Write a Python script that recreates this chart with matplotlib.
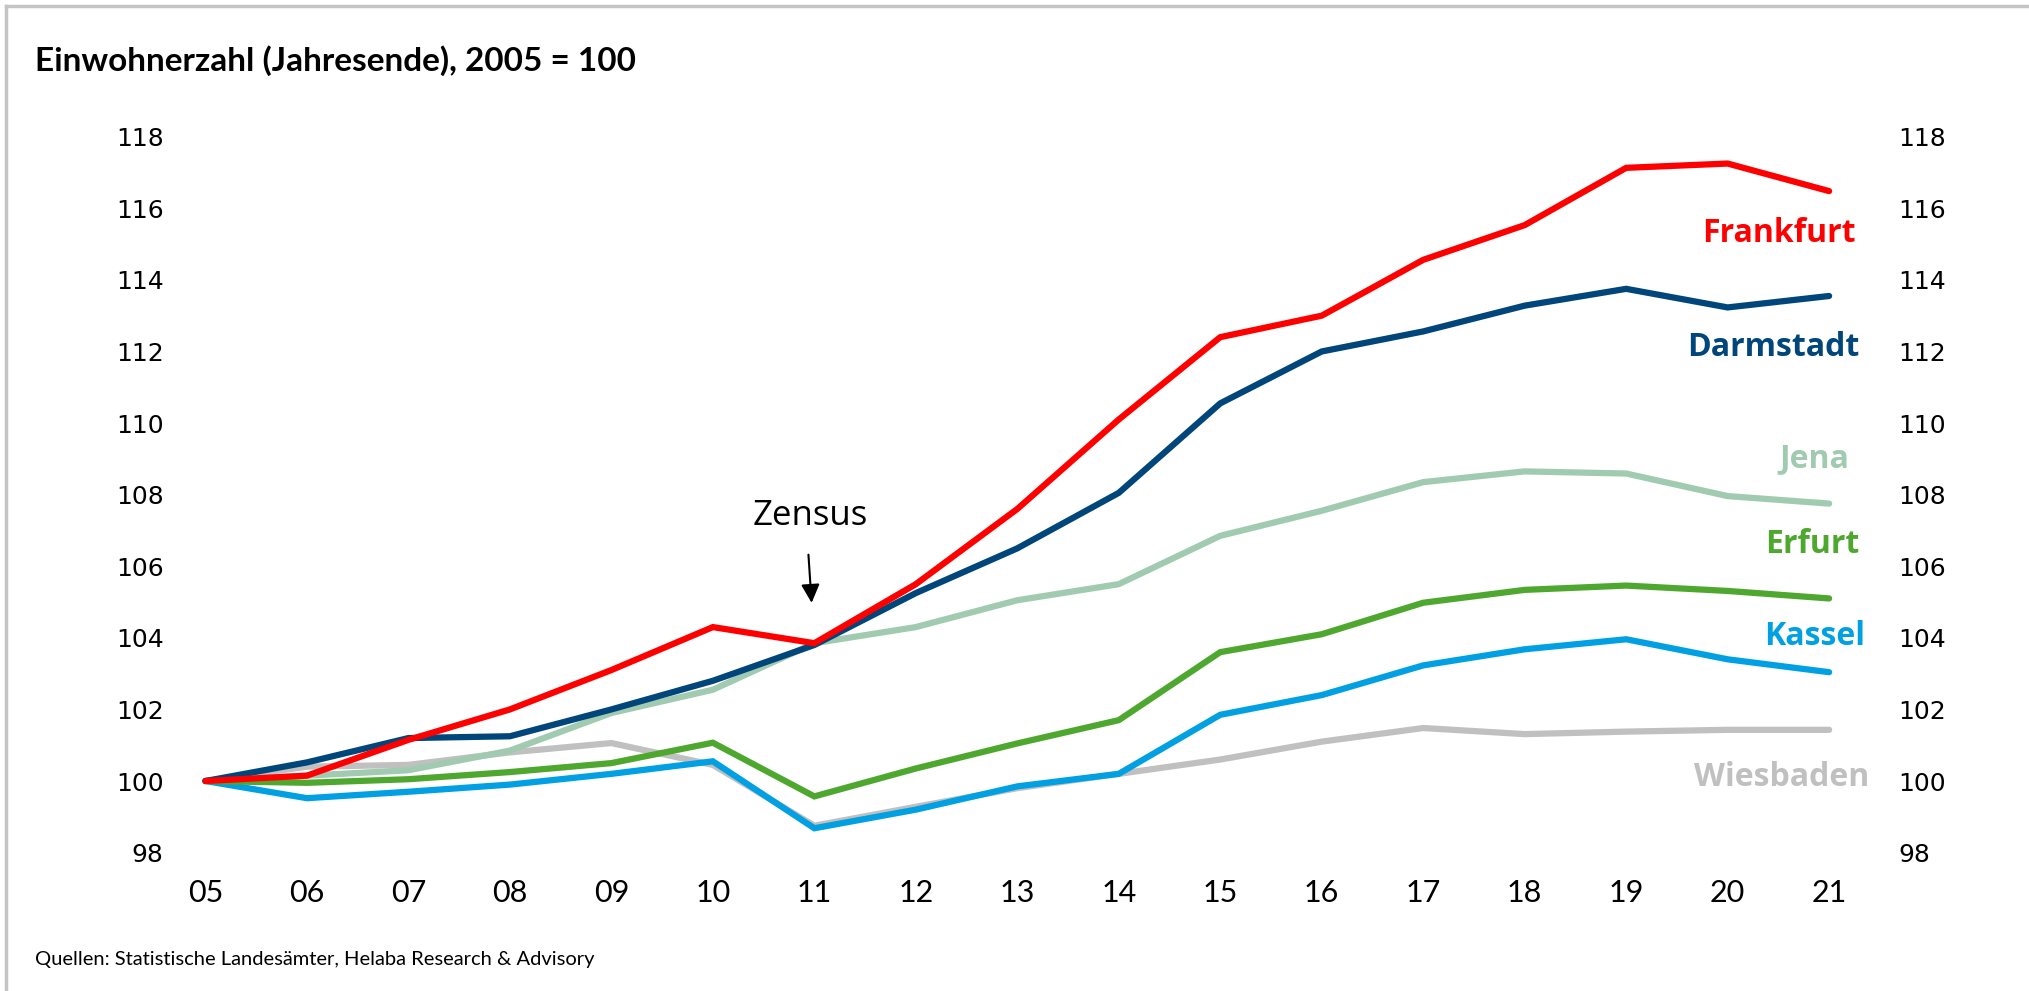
import matplotlib
matplotlib.use("Agg")
import matplotlib.pyplot as plt
from matplotlib.lines import Line2D

# Einwohnerzahl (Jahresende), 2005 = 100
jahre = ["05", "06", "07", "08", "09", "10", "11", "12", "13",
         "14", "15", "16", "17", "18", "19", "20", "21"]

frankfurt = [100, 100.15, 101.15, 102.0, 103.1, 104.3, 103.85, 105.5, 107.6,
             110.1, 112.4, 113.0, 114.56, 115.53, 117.13, 117.25, 116.48]
darmstadt = [100, 100.52, 101.2, 101.25, 102.0, 102.8, 103.8, 105.25, 106.5,
             108.05, 110.55, 112.0, 112.56, 113.28, 113.75, 113.23, 113.55]
jena = [100, 100.15, 100.3, 100.85, 101.9, 102.55, 103.85, 104.3, 105.05,
        105.5, 106.85, 107.55, 108.35, 108.65, 108.59, 107.96, 107.75]
erfurt = [100, 99.95, 100.05, 100.25, 100.5, 101.07, 99.57, 100.35, 101.05,
          101.7, 103.6, 104.1, 104.98, 105.34, 105.46, 105.31, 105.1]
kassel = [100, 99.52, 99.7, 99.9, 100.2, 100.55, 98.68, 99.2, 99.85,
          100.2, 101.85, 102.4, 103.23, 103.68, 103.96, 103.4, 103.04]
wiesbaden = [100, 100.4, 100.45, 100.8, 101.06, 100.45, 98.75, 99.28, 99.8,
             100.2, 100.6, 101.1, 101.48, 101.31, 101.38, 101.43, 101.43]

# draw order: back to front
serien = [
    ("Wiesbaden", wiesbaden, "#c0c0c0", 100.1, 16.4),
    ("Jena", jena, "#a0cbb0", 109.0, 16.2),
    ("Kassel", kassel, "#00a0e3", 104.05, 16.35),
    ("Erfurt", erfurt, "#4ea72e", 106.6, 16.3),
    ("Darmstadt", darmstadt, "#00467a", 112.1, 16.3),
    ("Frankfurt", frankfurt, "#ff0000", 115.3, 16.26),
]

narrow = ["Lato", "DejaVu Sans"]
sans = ["Open Sans", "DejaVu Sans"]

fig = plt.figure(figsize=(20.29, 9.91), dpi=100)
ax = fig.add_axes([172 / 2029, 1 - 852.6 / 991, (1890 - 172) / 2029, (852.6 - 136.7) / 991])

x = list(range(len(jahre)))
for name, werte, farbe, ly, lx in serien:
    ax.plot(x, werte, color=farbe, lw=4.5, solid_capstyle="round", solid_joinstyle="miter")
    ax.text(lx, ly, name, color=farbe, ha="right", va="center",
            fontsize=23, fontweight="bold", family=sans)

ax.set_xlim(-0.33, 16.6)
ax.set_ylim(98, 118)
ax.set_yticks(range(98, 119, 2))
ax.set_xticks(x)
ax.set_xticklabels(jahre, family=narrow, fontsize=22)
ax.tick_params(axis="both", length=0)
ax.tick_params(axis="y", labelsize=18, pad=6, labelright=True, right=False)
ax.tick_params(axis="x", pad=19)
for s in ax.spines.values():
    s.set_visible(False)

# Zensus
ax.text(5.96, 107.4, "Zensus", ha="center", va="center", fontsize=25, family=sans)
ax.annotate("", xy=(5.975, 104.9), xytext=(5.94, 106.4),
            arrowprops=dict(arrowstyle="-|>", color="black", lw=1.5, mutation_scale=28))

fig.text(35 / 2029, 1 - 61 / 991, "Einwohnerzahl (Jahresende), 2005 = 100",
         fontsize=24, fontweight="bold", family=narrow, va="center", ha="left")
fig.text(35 / 2029, 1 - 960 / 991, "Quellen: Statistische Landesämter, Helaba Research & Advisory",
         fontsize=14.5, family=narrow, va="center", ha="left")

# grauer Rahmen oben und links
fig.add_artist(Line2D([6 / 2029, 6 / 2029], [0, 1 - 6 / 991], transform=fig.transFigure,
                      color="#c4c4c4", lw=2.5))
fig.add_artist(Line2D([6 / 2029, 1], [1 - 6 / 991, 1 - 6 / 991], transform=fig.transFigure,
                      color="#c4c4c4", lw=2.5))

fig.savefig("out.png", dpi=100, facecolor="white")
